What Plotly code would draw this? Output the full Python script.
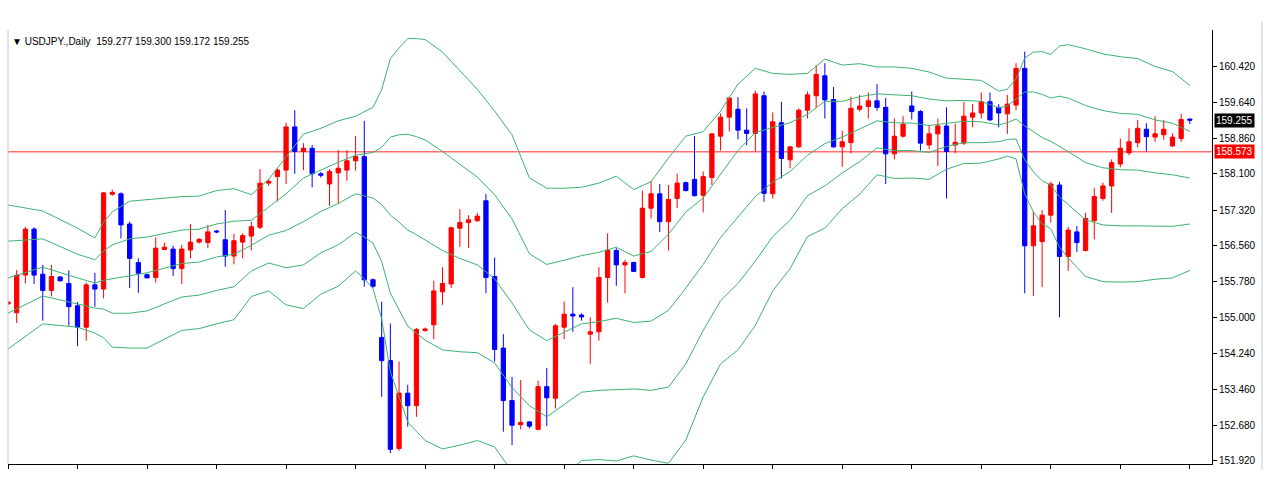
import plotly.graph_objects as go

# ---------------- data ----------------
bar_index = list(range(137))

opens = [155.30, 155.11, 155.92, 156.91, 155.94, 155.59, 155.88, 155.74, 155.26, 154.80,
         155.71, 155.62, 157.66, 157.67, 157.02, 156.19, 155.93, 155.87, 156.47, 156.48,
         156.06, 156.46, 156.63, 156.62, 156.87, 156.68, 156.33, 156.63, 156.76, 156.95,
         157.90, 158.04, 158.18, 159.11, 158.58, 158.65, 158.10, 157.88, 158.12, 158.18,
         158.38, 158.47, 155.82, 154.58, 154.08, 152.19, 153.38, 153.11, 154.73, 154.85,
         155.56, 155.73, 156.93, 157.05, 157.09, 157.52, 155.89, 154.35, 153.22, 152.70,
         152.76, 152.60, 153.52, 153.27, 154.80, 155.08, 155.06, 154.65, 154.70, 155.87,
         156.45, 156.14, 156.19, 155.87, 157.36, 157.67, 157.07, 157.57, 157.91, 157.98,
         157.64, 158.02, 158.91, 159.32, 159.49, 159.04, 158.97, 159.78, 157.67, 159.20,
         158.40, 158.68, 159.47, 159.78, 160.21, 159.70, 158.68, 158.77, 159.49, 159.55,
         159.67, 159.53, 158.53, 158.91, 159.56, 159.44, 158.72, 158.96, 159.13, 158.72,
         158.76, 159.32, 159.41, 159.65, 159.53, 159.39, 159.58, 160.37, 156.55, 156.64,
         157.21, 157.86, 156.32, 156.85, 156.45, 157.09, 157.57, 157.84, 158.31, 158.55,
         158.77, 159.06, 158.89, 158.94, 158.70, 158.86, 159.277]
highs = [155.36, 156.03, 156.96, 156.95, 156.14, 156.14, 155.90, 156.02, 155.34, 155.76,
         155.97, 157.71, 157.76, 157.70, 157.07, 156.28, 155.95, 156.73, 156.62, 156.55,
         156.57, 157.02, 156.72, 157.00, 156.89, 157.32, 156.81, 156.82, 157.07, 158.20,
         157.99, 158.22, 159.20, 159.47, 158.76, 158.72, 158.14, 158.20, 158.61, 158.61,
         158.91, 159.24, 155.85, 155.35, 154.88, 154.06, 153.56, 154.78, 154.79, 155.80,
         156.09, 156.96, 157.34, 157.21, 157.26, 157.67, 156.30, 154.65, 153.73, 153.66,
         152.78, 153.65, 153.92, 154.87, 155.35, 155.66, 155.10, 155.01, 156.09, 156.82,
         156.50, 156.25, 156.21, 157.74, 157.95, 157.88, 157.86, 158.10, 157.93, 158.91,
         158.15, 158.97, 159.40, 159.76, 159.75, 159.51, 159.89, 159.87, 159.42, 159.65,
         158.70, 159.51, 159.87, 160.44, 160.48, 159.97, 159.03, 159.76, 159.80, 159.85,
         160.03, 159.73, 159.29, 159.34, 159.87, 159.47, 159.15, 159.29, 159.53, 159.18,
         159.65, 159.60, 159.85, 159.85, 159.60, 159.80, 160.48, 160.73, 157.29, 157.32,
         157.93, 157.93, 156.96, 156.98, 157.26, 157.79, 157.91, 158.41, 158.86, 159.08,
         159.26, 159.19, 159.34, 159.26, 158.97, 159.39, 159.300]
lows = [155.28, 154.89, 155.74, 155.73, 154.94, 155.46, 155.78, 154.83, 154.39, 154.51,
        155.24, 155.42, 157.63, 156.71, 155.64, 155.54, 155.85, 155.76, 156.46, 155.90,
        155.73, 156.28, 156.60, 156.50, 156.82, 156.10, 156.15, 156.28, 156.45, 156.91,
        157.84, 157.50, 157.88, 158.10, 158.18, 157.81, 158.02, 157.41, 157.45, 157.95,
        158.17, 155.67, 155.64, 153.30, 152.09, 152.14, 152.66, 152.87, 154.70, 154.54,
        155.28, 155.64, 156.53, 156.50, 157.07, 155.53, 154.06, 152.55, 152.26, 152.60,
        152.62, 152.58, 152.67, 153.05, 154.54, 154.70, 154.94, 154.01, 154.51, 155.33,
        155.69, 155.53, 155.99, 155.85, 157.14, 156.85, 156.45, 157.36, 157.72, 157.61,
        157.27, 157.86, 158.60, 159.01, 158.84, 158.72, 158.58, 157.50, 157.57, 158.00,
        158.22, 158.66, 159.29, 159.52, 159.29, 158.66, 158.25, 158.54, 159.44, 159.29,
        159.46, 157.88, 158.41, 158.88, 159.27, 158.60, 158.63, 158.27, 157.57, 158.54,
        158.72, 159.10, 159.29, 159.24, 159.10, 158.96, 159.47, 155.53, 155.47, 155.66,
        157.05, 155.01, 156.01, 156.42, 156.43, 156.69, 157.52, 157.26, 158.24, 158.50,
        158.67, 158.58, 158.79, 158.83, 158.68, 158.79, 159.172]
closes = [155.34, 155.92, 156.91, 155.92, 155.59, 155.89, 155.80, 155.24, 154.80, 155.71,
          155.62, 157.69, 157.70, 157.00, 156.28, 155.96, 155.86, 156.50, 156.52, 156.06,
          156.48, 156.63, 156.69, 156.85, 156.85, 156.33, 156.66, 156.77, 156.96, 157.90,
          157.94, 158.18, 159.11, 158.58, 158.65, 158.10, 158.07, 158.15, 158.22, 158.38,
          158.47, 155.82, 155.68, 154.08, 152.17, 153.38, 153.11, 154.75, 154.76, 155.58,
          155.74, 156.94, 157.05, 157.11, 157.19, 155.87, 154.32, 153.22, 152.69, 152.75,
          152.67, 153.52, 153.28, 154.83, 155.08, 155.04, 155.02, 154.70, 155.87, 156.46,
          156.14, 156.19, 156.00, 157.36, 157.67, 157.07, 157.55, 157.90, 157.74, 157.63,
          158.04, 158.96, 159.32, 159.73, 159.04, 158.97, 159.82, 157.68, 159.22, 158.43,
          158.68, 159.47, 159.80, 160.24, 159.69, 158.68, 158.79, 159.51, 159.56, 159.67,
          159.53, 158.53, 158.91, 159.17, 159.44, 158.76, 158.96, 159.13, 158.58, 158.78,
          159.34, 159.41, 159.65, 159.26, 159.41, 159.60, 160.37, 156.55, 156.98, 157.21,
          157.88, 156.32, 156.89, 156.62, 157.14, 157.61, 157.84, 158.34, 158.65, 158.79,
          159.08, 158.90, 158.96, 159.06, 158.89, 159.27, 159.255]

band_bars = [0, 4, 8, 10, 11, 12, 14, 16, 20, 22, 24, 26, 28, 30, 32, 34, 36, 38,
             40, 41, 42, 43, 44, 45, 46, 47, 48, 50, 52, 54, 56, 58, 60, 62, 64, 66, 68,
             70, 72, 74, 76, 78, 80, 82, 84, 86, 88, 90, 92, 94, 96, 98, 100, 102, 104,
             106, 108, 110, 112, 114, 115, 116, 117, 118, 119, 120, 121, 122, 124, 126,
             128, 130, 132, 134, 136]
band_upper2 = [157.43, 157.30, 156.93, 156.72, 157.06, 157.28, 157.51, 157.54, 157.61, 157.62,
               157.74, 157.78, 157.65, 157.98, 158.47, 158.95, 159.08, 159.24, 159.34, 159.43,
               159.53, 159.91, 160.58, 160.81, 161.01, 161.01, 160.99, 160.72, 160.31, 159.92,
               159.45, 158.94, 158.01, 157.79, 157.79, 157.81, 157.90, 158.05, 157.76, 157.93,
               158.44, 158.91, 159.01, 159.45, 160.03, 160.37, 160.26, 160.24, 160.26, 160.57,
               160.44, 160.47, 160.40, 160.40, 160.37, 160.29, 160.16, 160.14, 160.11, 159.88,
               159.92, 160.14, 160.59, 160.72, 160.73, 160.67, 160.85, 160.88, 160.79, 160.68,
               160.62, 160.58, 160.41, 160.30, 160.00]
band_upper1 = [156.65, 156.70, 156.37, 156.25, 156.44, 156.57, 156.70, 156.74, 156.89, 156.91,
               157.02, 157.08, 157.10, 157.38, 157.67, 158.01, 158.18, 158.35, 158.50, 158.53,
               158.56, 158.67, 158.89, 158.94, 158.95, 158.90, 158.83, 158.58, 158.30, 158.03,
               157.65, 157.13, 156.38, 156.15, 156.24, 156.34, 156.41, 156.52, 156.33, 156.43,
               156.80, 157.28, 157.58, 158.09, 158.60, 158.99, 159.09, 159.20, 159.38, 159.66,
               159.66, 159.76, 159.82, 159.80, 159.78, 159.71, 159.67, 159.68, 159.66, 159.52,
               159.56, 159.71, 159.86, 159.86, 159.81, 159.73, 159.77, 159.73, 159.57, 159.46,
               159.40, 159.38, 159.26, 159.19, 159.01]
band_middle = [155.86, 156.09, 155.86, 155.75, 155.81, 155.84, 155.90, 155.97, 156.17, 156.20,
               156.31, 156.37, 156.56, 156.78, 156.88, 157.07, 157.29, 157.46, 157.67, 157.63,
               157.58, 157.44, 157.21, 157.06, 156.89, 156.79, 156.68, 156.45, 156.28, 156.14,
               155.84, 155.32, 154.74, 154.51, 154.69, 154.87, 154.92, 154.99, 154.90, 154.93,
               155.16, 155.64, 156.15, 156.73, 157.17, 157.61, 157.92, 158.15, 158.50, 158.75,
               158.89, 159.06, 159.24, 159.20, 159.19, 159.14, 159.18, 159.23, 159.22, 159.15,
               159.20, 159.28, 159.13, 159.00, 158.88, 158.80, 158.69, 158.58, 158.34, 158.23,
               158.19, 158.18, 158.12, 158.08, 158.01]
band_lower1 = [155.10, 155.47, 155.30, 155.21, 155.19, 155.10, 155.10, 155.15, 155.45, 155.49,
               155.59, 155.67, 156.01, 156.18, 156.08, 156.14, 156.40, 156.57, 156.84, 156.74,
               156.61, 156.21, 155.53, 155.19, 154.82, 154.67, 154.52, 154.31, 154.27, 154.25,
               154.03, 153.50, 153.11, 152.87, 153.14, 153.40, 153.44, 153.46, 153.47, 153.44,
               153.51, 154.01, 154.73, 155.37, 155.74, 156.22, 156.75, 157.10, 157.63, 157.84,
               158.12, 158.36, 158.66, 158.60, 158.60, 158.56, 158.69, 158.77, 158.77, 158.79,
               158.84, 158.85, 158.40, 158.14, 157.95, 157.86, 157.60, 157.44, 157.11, 157.00,
               156.98, 156.98, 156.97, 156.97, 157.02]
band_lower2 = [154.33, 154.87, 154.80, 154.67, 154.57, 154.37, 154.35, 154.35, 154.73, 154.77,
               154.87, 154.96, 155.46, 155.58, 155.28, 155.20, 155.51, 155.68, 156.01, 155.84,
               155.63, 154.98, 153.84, 153.32, 152.76, 152.56, 152.36, 152.18, 152.26, 152.36,
               152.22, 151.69, 151.48, 151.23, 151.60, 151.93, 151.95, 151.92, 152.03, 151.94,
               151.87, 152.37, 153.30, 154.01, 154.31, 154.84, 155.58, 156.06, 156.75, 156.93,
               157.35, 157.66, 158.08, 158.00, 158.01, 157.98, 158.20, 158.32, 158.33, 158.42,
               158.48, 158.42, 157.67, 157.28, 157.02, 156.92, 156.52, 156.29, 155.89, 155.78,
               155.77, 155.78, 155.83, 155.86, 156.02]

price_ticks = [151.92, 152.68, 153.46, 154.24, 155.00, 155.78, 156.56, 157.32,
               158.10, 158.86, 159.64, 160.42]
h_line_level = 158.573
last_price = 159.255
header_text = "\u25bc USDJPY.,Daily\u00a0\u00a0159.277 159.300 159.172 159.255"

# ---------------- figure ----------------
GREEN = "#3cb371"
fig = go.Figure()

for band in [band_upper2, band_upper1, band_middle, band_lower1, band_lower2]:
    fig.add_trace(go.Scatter(x=band_bars, y=band, mode="lines",
                             line=dict(color=GREEN, width=1),
                             hoverinfo="skip", showlegend=False))

fig.add_trace(go.Candlestick(
    x=bar_index, open=opens, high=highs, low=lows, close=closes,
    increasing=dict(line=dict(color="#ff0000", width=1), fillcolor="#ff0000"),
    decreasing=dict(line=dict(color="#0000ff", width=1), fillcolor="#0000ff"),
    whiskerwidth=0, showlegend=False, hoverinfo="skip"))

fig.add_shape(type="line", xref="paper", x0=0, x1=1, yref="y",
              y0=h_line_level, y1=h_line_level,
              line=dict(color="#ff2a2a", width=1), layer="below")
# left border of the chart window
fig.add_shape(type="line", xref="paper", x0=0, x1=0, yref="paper", y0=0, y1=1,
              line=dict(color="#c8c8c8", width=1))
# right window border
fig.add_shape(type="line", xref="paper", x0=1.0415, x1=1.0415, yref="paper", y0=-0.014, y1=1.02,
              line=dict(color="#c4ccd8", width=1))

fig.add_annotation(xref="paper", yref="paper", x=0, y=1, xanchor="left", yanchor="top",
                   xshift=2, yshift=-4, text=header_text, showarrow=False,
                   font=dict(family="Liberation Sans, Arial, sans-serif", size=10, color="#000000"))

fig.add_annotation(xref="paper", yref="y", x=1, y=last_price, xanchor="left", yanchor="middle",
                   xshift=2, text=f"{last_price:.3f}", showarrow=False, bgcolor="#000000",
                   borderpad=1, font=dict(family="Liberation Sans, Arial, sans-serif",
                                          size=10, color="#ffffff"))
fig.add_annotation(xref="paper", yref="y", x=1, y=h_line_level, xanchor="left", yanchor="middle",
                   xshift=2, text=f"{h_line_level:.3f}", showarrow=False, bgcolor="#ff0000",
                   borderpad=1, font=dict(family="Liberation Sans, Arial, sans-serif",
                                          size=10, color="#ffffff"))

fig.update_layout(
    width=1274, height=500,
    margin=dict(l=8, r=62, t=30, b=36),
    paper_bgcolor="#ffffff", plot_bgcolor="#ffffff",
    showlegend=False,
    font=dict(family="Liberation Sans, Arial, sans-serif", size=10, color="#000000"),
    xaxis=dict(range=[0, 138.55], showgrid=False, zeroline=False,
               showline=True, linecolor="#000000", linewidth=1,
               ticks="outside", ticklen=4, tickcolor="#000000",
               tickvals=list(range(0, 137, 8)), showticklabels=False,
               rangeslider=dict(visible=False), fixedrange=True),
    yaxis=dict(range=[151.855, 161.195], side="right", showgrid=False, zeroline=False,
               showline=True, linecolor="#000000", linewidth=1,
               ticks="outside", ticklen=4, tickcolor="#000000",
               tickvals=price_ticks, ticktext=[f"{v:.3f}" for v in price_ticks],
               tickfont=dict(size=10, color="#000000"), fixedrange=True),
)

fig.write_html("out.html")
